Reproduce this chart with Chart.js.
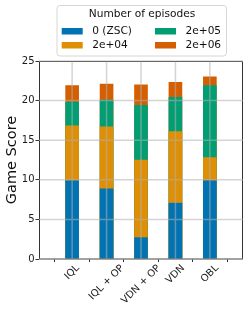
<!DOCTYPE html>
<html>
<head>
<meta charset="utf-8">
<script src="https://cdn.jsdelivr.net/npm/chart.js@4/dist/chart.umd.min.js"></script>
<style>
  html, body { margin: 0; padding: 0; background: #fff; }
  canvas { display: block; }
</style>
</head>
<body>
<canvas id="scoreChart" width="249" height="313"></canvas>
<script>
const methods = ['IQL', 'IQL + OP', 'VDN + OP', 'VDN', 'OBL'];
const episodeLabels = ['0 (ZSC)', '2e+04', '2e+05', '2e+06'];
// game score reached after each number of episodes (bars overlap, not stacked)
const scoreZsc = [9.9, 8.85, 2.7, 7.05, 9.9];
const score2e4 = [16.8, 16.7, 12.5, 16.1, 12.8];
const score2e5 = [19.8, 20.05, 19.4, 20.4, 21.9];
const score2e6 = [21.9, 22.1, 22.0, 22.3, 23.0];
const colors = ['#0173b2', '#de8f05', '#029e73', '#d55e00'];

const toPoints = arr => arr.map((v, i) => ({ x: i, y: v }));
const seriesList = [scoreZsc, score2e4, score2e5, score2e6];

// gridlines and spines on top of the bars, like the original
const gridOnTop = {
  id: 'gridOnTop',
  afterDatasetsDraw(chart) {
    const { ctx, chartArea: a, scales: { x, y } } = chart;
    ctx.save();
    ctx.strokeStyle = '#333';
    ctx.lineWidth = 1;
    ctx.beginPath();
    ctx.moveTo(a.left + 0.5, a.bottom);
    ctx.lineTo(a.left + 0.5, a.top + 0.5);
    ctx.lineTo(a.right - 0.5, a.top + 0.5);
    ctx.lineTo(a.right - 0.5, a.bottom);
    ctx.moveTo(a.left, a.bottom);
    ctx.lineTo(a.right, a.bottom);
    ctx.stroke();
    ctx.strokeStyle = 'rgba(176,176,176,0.55)';
    ctx.lineWidth = 1.5;
    ctx.beginPath();
    y.ticks.forEach(t => {
      const py = y.getPixelForValue(t.value);
      ctx.moveTo(a.left, py);
      ctx.lineTo(a.right, py);
    });
    x.ticks.forEach(t => {
      const px = x.getPixelForValue(t.value);
      ctx.moveTo(px, a.top);
      ctx.lineTo(px, a.bottom);
    });
    ctx.stroke();
    ctx.restore();
  }
};

// rotated x labels centred under their tick (matplotlib rotation=45, ha=center)
const xLabels = {
  id: 'xLabels',
  afterDraw(chart) {
    const { ctx, chartArea: a, scales: { x } } = chart;
    ctx.save();
    ctx.font = '10px "DejaVu Sans"';
    ctx.fillStyle = '#1a1a1a';
    ctx.textAlign = 'center';
    ctx.textBaseline = 'middle';
    x.ticks.forEach(t => {
      const label = methods[t.value];
      const w = ctx.measureText(label).width;
      const half = (w + 10) * Math.SQRT1_2 / 2;
      ctx.save();
      ctx.translate(x.getPixelForValue(t.value), a.bottom + 4 + half);
      ctx.rotate(-Math.PI / 4);
      ctx.fillText(label, 0, 0);
      ctx.restore();
    });
    ctx.restore();
  }
};

// matplotlib style legend: framed, titled, two columns filled top to bottom
const legendBox = {
  id: 'legendBox',
  afterDraw(chart) {
    const ctx = chart.ctx;
    ctx.save();
    ctx.beginPath();
    ctx.roundRect(57, 5.5, 169.5, 50.5, 3);
    ctx.fillStyle = 'rgba(255,255,255,0.8)';
    ctx.fill();
    ctx.strokeStyle = '#d6d6d6';
    ctx.lineWidth = 1;
    ctx.stroke();
    ctx.font = '10.6px "DejaVu Sans"';
    ctx.fillStyle = '#111';
    ctx.textBaseline = 'middle';
    ctx.textAlign = 'center';
    ctx.fillText('Number of episodes', 142, 14.5);
    ctx.textAlign = 'left';
    chart.data.datasets.forEach((ds, i) => {
      const col = Math.floor(i / 2), row = i % 2;
      const x = col ? 155 : 61.7;
      const y = row ? 45 : 31;
      ctx.fillStyle = ds.backgroundColor;
      ctx.fillRect(x, y - 3, 21, 6.5);
      ctx.fillStyle = '#111';
      ctx.fillText(ds.label, x + 30.5, y + 0.5);
    });
    ctx.restore();
  }
};

new Chart(document.getElementById('scoreChart'), {
  type: 'bar',
  data: {
    datasets: seriesList.map((s, i) => ({
      label: episodeLabels[i],
      data: toPoints(s),
      backgroundColor: colors[i],
      grouped: false,
      barThickness: 13,
      borderWidth: 0
    }))
  },
  plugins: [gridOnTop, xLabels, legendBox],
  options: {
    responsive: false,
    animation: false,
    devicePixelRatio: 1,
    layout: { padding: { top: 61, right: 6, left: 0, bottom: 0 } },
    plugins: { legend: { display: false }, tooltip: { enabled: false } },
    scales: {
      x: {
        type: 'linear',
        min: -0.37,
        max: 4.37,
        afterBuildTicks: s => { s.ticks = methods.map((m, i) => ({ value: i })); },
        afterFit: s => { s.height = 54; },
        grid: { drawOnChartArea: false, color: 'transparent', tickColor: '#333', tickLength: 3 },
        border: { display: false },
        ticks: { display: false }
      },
      y: {
        min: 0,
        max: 25,
        afterFit: s => { s.width = 39; },
        grid: { drawOnChartArea: false, color: 'transparent', tickColor: '#333', tickLength: 3.5 },
        border: { display: false },
        ticks: {
          stepSize: 5,
          padding: 1,
          color: '#1a1a1a',
          font: { family: 'DejaVu Sans', size: 10 }
        },
        title: {
          display: true,
          text: 'Game Score',
          color: '#111',
          padding: { top: 4, bottom: 0 },
          font: { family: 'DejaVu Sans', size: 14.5 }
        }
      }
    }
  }
});
</script>
</body>
</html>
